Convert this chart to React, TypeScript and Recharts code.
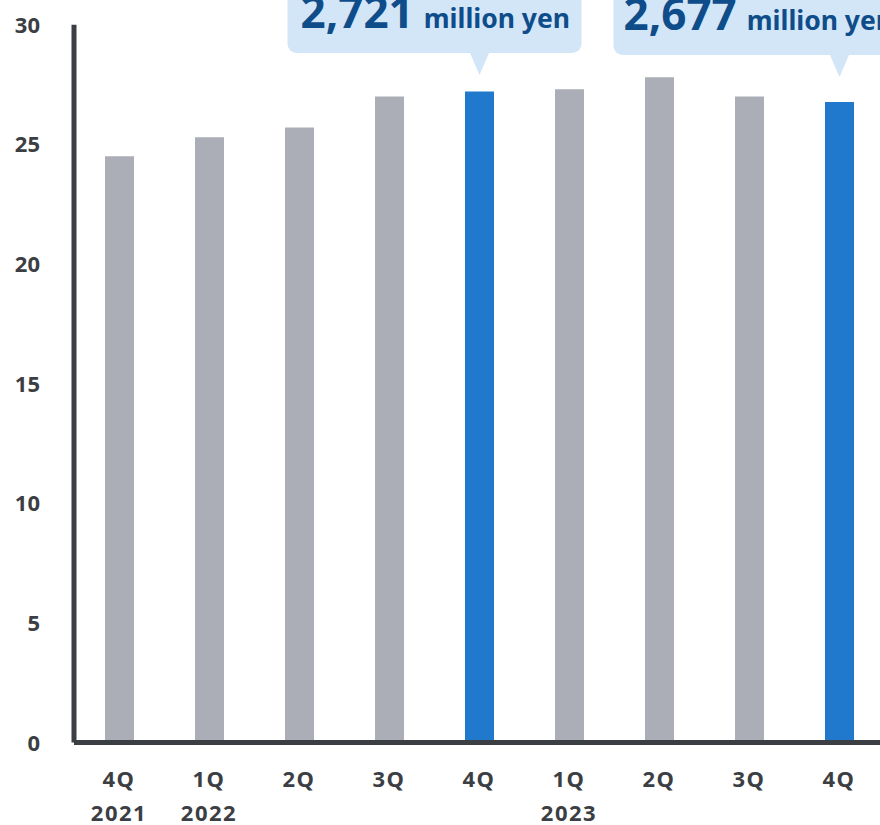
import React from 'react';
import { BarChart, Bar, XAxis, YAxis, Cell, LabelList } from 'recharts';

if (typeof document !== 'undefined') {
  document.body.style.margin = '0';
}

const quarters = ['4Q', '1Q', '2Q', '3Q', '4Q', '1Q', '2Q', '3Q', '4Q'];
const years = ['2021', '2022', '', '', '', '2023', '', '', ''];
const values = [24.5, 25.3, 25.7, 27.0, 27.21, 27.3, 27.8, 27.0, 26.77];
const highlighted = [4, 8];
const yTicks = [0, 5, 10, 15, 20, 25, 30];

const data = quarters.map((q, i) => ({ key: `${q}-${i}`, value: values[i] }));

const FONT = '"Noto Sans", "Open Sans", sans-serif';
const AXIS = '#3b3e43';
const GREY = '#abaeb6';
const BLUE = '#2079cd';
const BOX = '#d2e6f8';
const NAVY = '#0f4c8a';

const XTick = (props: any) => {
  const { x, y, index } = props;
  return (
    <g>
      <text x={x} y={y + 44} textAnchor="middle" fontFamily={FONT} fontWeight={700} fontSize={22} fill={AXIS} letterSpacing={1.5}>
        {quarters[index]}
      </text>
      {years[index] ? (
        <text x={x} y={y + 78} textAnchor="middle" fontFamily={FONT} fontWeight={700} fontSize={22} fill={AXIS} letterSpacing={1.5}>
          {years[index]}
        </text>
      ) : null}
    </g>
  );
};

const YTick = (props: any) => {
  const { x, y, payload } = props;
  return (
    <text x={x} y={y + 8} textAnchor="end" fontFamily={FONT} fontWeight={700} fontSize={22} fill={AXIS}>
      {payload.value}
    </text>
  );
};

const calloutLeft: Record<number, number> = { 4: 192, 8: 226 };
const calloutWidth: Record<number, number> = { 4: 294, 8: 300 };
const calloutDy: Record<number, number> = { 4: 0, 8: 2 };
const calloutPad: Record<number, number> = { 4: 13, 8: 10 };

const Callout = (props: any) => {
  const { x, width, index, value } = props;
  if (!highlighted.includes(index)) return null;
  const cx = x + width / 2;
  const dy = calloutDy[index] || 0;
  const left = cx - calloutLeft[index];
  const w = calloutWidth[index];
  const bottom = 53 + dy;
  const top = -30;
  const label = Math.round(value * 100).toLocaleString('en-US');
  return (
    <g>
      <rect x={left} y={top} width={w} height={bottom - top} rx={9} ry={9} fill={BOX} />
      <polygon points={`${cx - 10},${bottom - 1} ${cx + 10},${bottom - 1} ${cx},${bottom + 22}`} fill={BOX} />
      <text x={left + calloutPad[index]} y={28 + dy} fontFamily={FONT} fontWeight={700} fill={NAVY}>
        <tspan fontSize={44}>{label}</tspan>
        <tspan fontSize={26.5} dx={10}>million yen</tspan>
      </text>
    </g>
  );
};

export default function App() {
  return (
    <div style={{ width: 880, height: 825, overflow: 'hidden', background: '#fff' }}>
      <BarChart
        width={900}
        height={825}
        data={data}
        margin={{ top: 24.7, right: 16, bottom: 22.5, left: 0 }}
        barCategoryGap={0}
      >
        <XAxis
          dataKey="key"
          axisLine={{ stroke: AXIS, strokeWidth: 5 }}
          tickLine={false}
          tickSize={0}
          tickMargin={0}
          height={60}
          interval={0}
          tick={<XTick />}
        />
        <YAxis
          domain={[0, 30]}
          ticks={yTicks}
          width={74}
          axisLine={{ stroke: AXIS, strokeWidth: 5 }}
          tickLine={false}
          tickSize={0}
          tickMargin={34}
          interval={0}
          tick={<YTick />}
        />
        <Bar dataKey="value" barSize={29} isAnimationActive={false}>
          {data.map((d, i) => (
            <Cell key={d.key} fill={highlighted.includes(i) ? BLUE : GREY} />
          ))}
          <LabelList dataKey="value" content={<Callout />} />
        </Bar>
      </BarChart>
    </div>
  );
}
